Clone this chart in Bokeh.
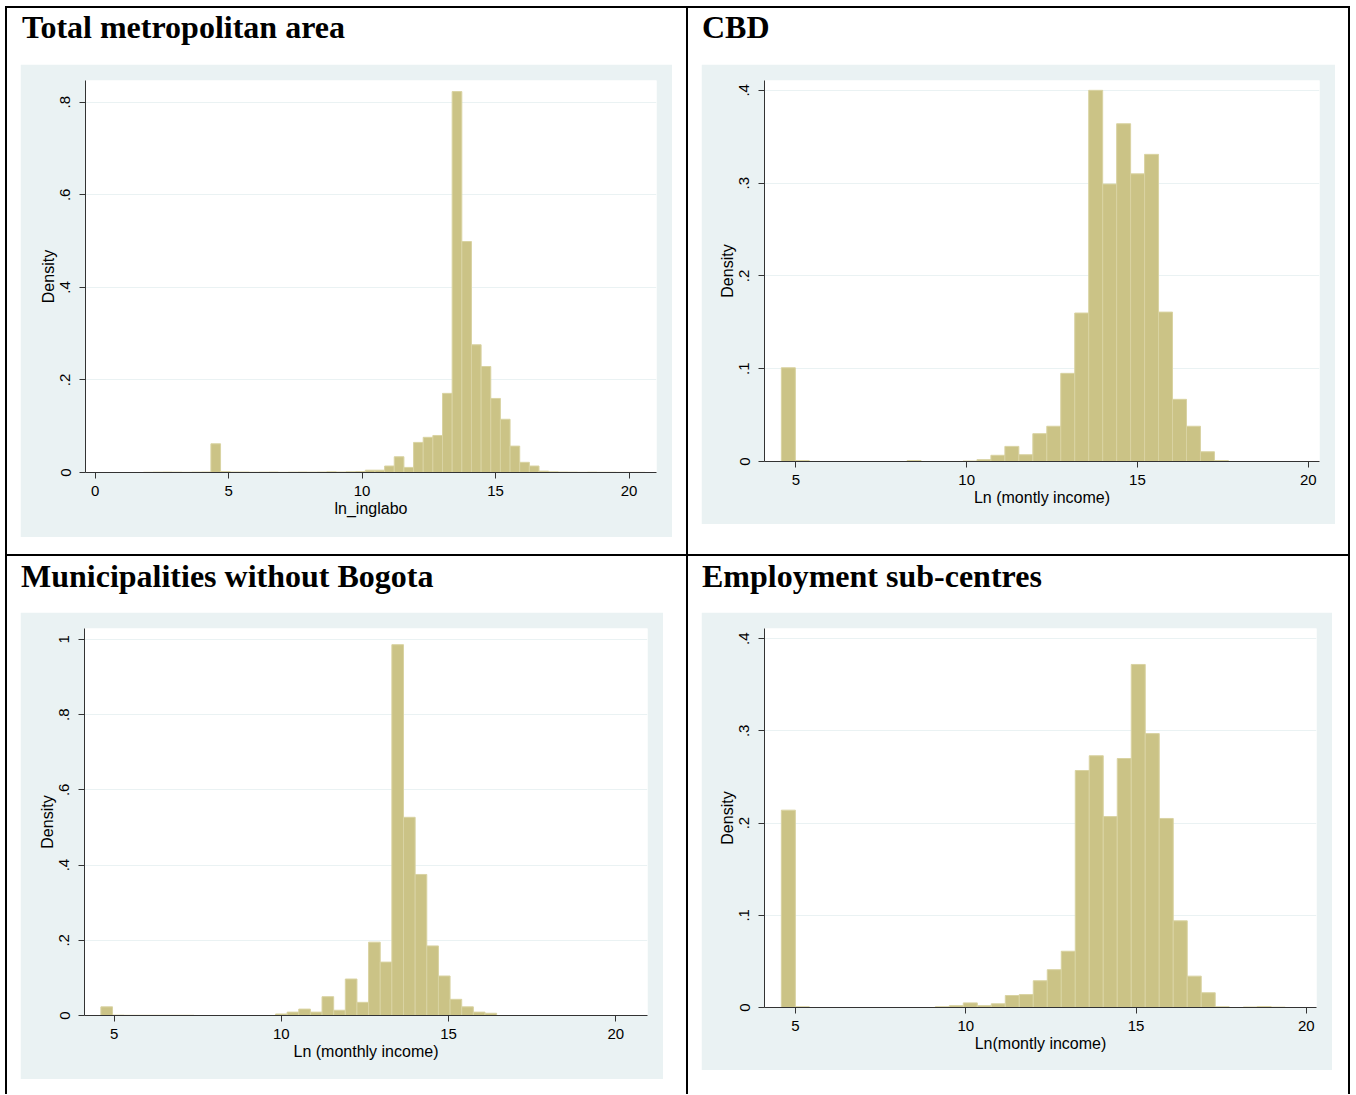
import numpy as np
from bokeh.plotting import figure
from bokeh.layouts import column, row
from bokeh.models import Range1d, FixedTicker, Spacer, Div, ColumnDataSource
from bokeh.embed import file_html
from bokeh.resources import INLINE

# ---------------- data ----------------
titles = ["Total metropolitan area", "CBD",
          "Municipalities without Bogota", "Employment sub-centres"]
x_labels = ["ln_inglabo", "Ln (montly income)", "Ln (monthly income)", "Ln(montly income)"]
y_label = "Density"

# histogram bins: first bin start, bin width, densities
p1_origin, p1_binwidth = 0.0, 0.3615
p1_density = [0, 0, 0, 0, 0, 0.0005, 0.0008, 0.001, 0.0008, 0.0005,
              0.0008, 0.001, 0.062, 0.002, 0.001, 0.001, 0.0005, 0.0008, 0.001, 0.0005,
              0.0008, 0.001, 0.0008, 0.001, 0.0015, 0.001, 0.0015, 0.002, 0.005, 0.005,
              0.014, 0.034, 0.011, 0.065, 0.076, 0.080, 0.171, 0.823, 0.499, 0.276,
              0.229, 0.160, 0.115, 0.057, 0.022, 0.014, 0.003, 0.0015, 0.001, 0.0008,
              0.0005, 0.0008, 0.0005, 0.0005, 0.0003, 0.0003, 0.0003]

p2_origin, p2_binwidth = 4.575, 0.409
p2_density = [0.101, 0.001, 0, 0, 0, 0, 0, 0, 0, 0.001,
              0, 0, 0, 0.0005, 0.002, 0.0067, 0.0163, 0.0073, 0.030, 0.038,
              0.095, 0.160, 0.400, 0.299, 0.364, 0.310, 0.331, 0.161, 0.067, 0.038,
              0.0105, 0.001]

p3_origin, p3_binwidth = 4.605, 0.348
p3_density = [0.023, 0.001, 0.0005, 0.0005, 0.0005, 0.0005, 0.0005, 0.0005, 0, 0,
              0, 0, 0, 0, 0, 0.004, 0.009, 0.017, 0.009, 0.050,
              0.014, 0.097, 0.035, 0.195, 0.142, 0.986, 0.527, 0.375, 0.185, 0.105,
              0.043, 0.023, 0.009, 0.006]

p4_origin, p4_binwidth = 4.585, 0.411
p4_density = [0.214, 0.0008, 0, 0, 0, 0, 0, 0, 0, 0,
              0, 0.0008, 0.002, 0.005, 0.002, 0.004, 0.013, 0.014, 0.029, 0.041,
              0.061, 0.257, 0.273, 0.207, 0.270, 0.372, 0.297, 0.205, 0.094, 0.034,
              0.016, 0.0008, 0, 0.0005, 0.001, 0.0004]

p1_xticks = [0, 5, 10, 15, 20]
p234_xticks = [5, 10, 15, 20]
p1_yticks = [0, 0.2, 0.4, 0.6, 0.8]
p1_ylabels = ["0", ".2", ".4", ".6", ".8"]
p24_yticks = [0, 0.1, 0.2, 0.3, 0.4]
p24_ylabels = ["0", ".1", ".2", ".3", ".4"]
p3_yticks = [0, 0.2, 0.4, 0.6, 0.8, 1]
p3_ylabels = ["0", ".2", ".4", ".6", ".8", "1"]

# ---------------- style ----------------
LIGHT = "#EAF2F3"
BAR_FILL = "#CBC386"
BAR_LINE = "#D9D3A2"
AXC = "#333333"
SANS = "Liberation Sans"
SERIF = "Liberation Serif"


def title_div(text, w, h, x_off, pad_top):
    html = ('<div style="font-family:\'Liberation Serif\',serif; font-weight:bold; '
            'font-size:32px; line-height:32px; color:black; white-space:nowrap; '
            f'padding-left:{x_off}px; padding-top:{pad_top}px;">{text}</div>')
    return Div(text=html, width=w, height=h, margin=0)


def hist_fig(origin, bw, dens, w, h, borders, xr, yr, xticks, yticks, ylabels, xlabel):
    L, R, T, B = borders
    p = figure(width=w, height=h, x_range=Range1d(*xr), y_range=Range1d(*yr),
               toolbar_location=None, output_backend="svg",
               min_border_left=L, min_border_right=R, min_border_top=T, min_border_bottom=B,
               border_fill_color=LIGHT, background_fill_color="white",
               outline_line_color=None, margin=(0, 0, 0, 13))
    dens = np.asarray(dens, dtype=float)
    left = origin + bw * np.arange(len(dens))
    keep = dens > 0
    src = ColumnDataSource(dict(left=left[keep], right=left[keep] + bw, top=dens[keep]))
    p.quad(left="left", right="right", top="top", bottom=0, source=src,
           fill_color=BAR_FILL, line_color=BAR_LINE, line_width=1)

    p.xaxis.ticker = FixedTicker(ticks=xticks)
    p.yaxis.ticker = FixedTicker(ticks=yticks)
    p.yaxis.major_label_overrides = {t: s for t, s in zip(yticks, ylabels)}
    p.xgrid.visible = False
    p.ygrid.ticker = FixedTicker(ticks=yticks)
    p.ygrid.grid_line_color = LIGHT
    p.ygrid.grid_line_width = 1

    for ax in (p.xaxis[0], p.yaxis[0]):
        ax.axis_line_color = AXC
        ax.axis_line_width = 1
        ax.major_tick_line_color = AXC
        ax.minor_tick_line_color = None
        ax.major_tick_out = 6
        ax.major_tick_in = 0
        ax.major_label_text_font = SANS
        ax.major_label_text_font_size = "15px"
        ax.major_label_text_color = "black"
        ax.axis_label_text_font = SANS
        ax.axis_label_text_font_size = "16px"
        ax.axis_label_text_font_style = "normal"
        ax.axis_label_text_color = "black"
    p.xaxis.major_label_standoff = 7
    p.xaxis.axis_label_standoff = 1
    p.yaxis.major_label_standoff = 9
    p.yaxis.axis_label_standoff = 1
    p.yaxis.major_label_orientation = "vertical"
    p.xaxis.axis_label = xlabel
    p.yaxis.axis_label = y_label
    return p


f1 = hist_fig(p1_origin, p1_binwidth, p1_density, 652, 473, (65, 16, 16, 65),
              (-0.36, 21.03), (0, 0.847), p1_xticks, p1_yticks, p1_ylabels, x_labels[0])
f2 = hist_fig(p2_origin, p2_binwidth, p2_density, 634, 460, (63, 16, 16, 63),
              (4.081, 20.33), (0, 0.4106), p234_xticks, p24_yticks, p24_ylabels, x_labels[1])
f3 = hist_fig(p3_origin, p3_binwidth, p3_density, 643, 467, (64, 16, 16, 64),
              (4.115, 20.948), (0, 1.029), p234_xticks, p3_yticks, p3_ylabels, x_labels[2])
f4 = hist_fig(p4_origin, p4_binwidth, p4_density, 631, 458, (63, 16, 16, 63),
              (4.09, 20.30), (0, 0.411), p234_xticks, p24_yticks, p24_ylabels, x_labels[3])

t1 = title_div(titles[0], 679, 56, 15, 3)
t2 = title_div(titles[1], 660, 56, 14, 3)
t3 = title_div(titles[2], 679, 56, 14, 4)
t4 = title_div(titles[3], 660, 56, 14, 4)


def hline(w):
    return Spacer(width=w, height=2, margin=0, styles={"background-color": "black"})


def vline(h):
    return Spacer(width=2, height=h, margin=0, styles={"background-color": "black"})


cell1 = column(t1, f1, margin=0)
cell2 = column(t2, f2, margin=0)
cell3 = column(t3, f3, margin=0)
cell4 = column(t4, f4, margin=0)

rowA = row(vline(546), cell1, vline(546), cell2, vline(546), margin=0)
rowB = row(vline(538), cell3, vline(538), cell4, vline(538), margin=0)
root = column(hline(1345), rowA, hline(1345), rowB, margin=(6, 0, 0, 5))

open("out.html", "w").write(file_html(root, INLINE))
